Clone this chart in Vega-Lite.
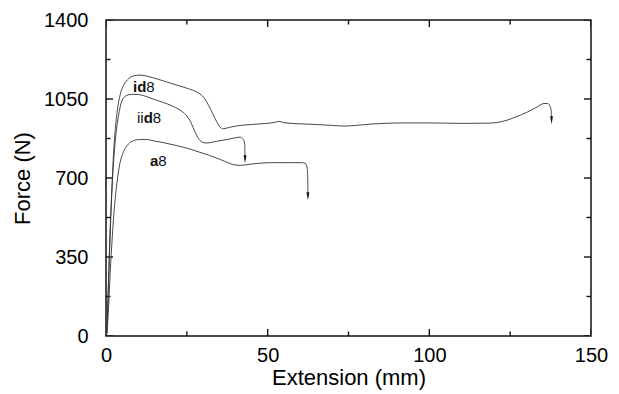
{
  "$schema": "https://vega.github.io/schema/vega-lite/v6.json",
  "width": 485,
  "height": 316,
  "autosize": "none",
  "padding": {"left": 106, "top": 20, "right": 28, "bottom": 58},
  "config": {
    "font": "Liberation Sans",
    "view": {"stroke": "#111", "strokeWidth": 1.5},
    "axis": {"grid": false, "domain": false, "ticks": false, "labelColor": "#000", "titleColor": "#000", "labelFlush": false, "labelOverlap": false},
    "tick": {"color": "#111", "opacity": 1, "thickness": 1.4}
  },
  "datasets": {
    "curves": [
      {"series": "id8", "x": 0.2, "y": 10}, {"series": "id8", "x": 0.5, "y": 120}, {"series": "id8", "x": 0.9, "y": 300},
      {"series": "id8", "x": 1.3, "y": 480}, {"series": "id8", "x": 1.8, "y": 650}, {"series": "id8", "x": 2.3, "y": 800},
      {"series": "id8", "x": 2.9, "y": 920}, {"series": "id8", "x": 3.6, "y": 1010}, {"series": "id8", "x": 4.5, "y": 1075},
      {"series": "id8", "x": 5.5, "y": 1112}, {"series": "id8", "x": 7, "y": 1140}, {"series": "id8", "x": 8.5, "y": 1152},
      {"series": "id8", "x": 10.5, "y": 1156}, {"series": "id8", "x": 13, "y": 1150}, {"series": "id8", "x": 16, "y": 1138},
      {"series": "id8", "x": 20, "y": 1120}, {"series": "id8", "x": 24, "y": 1102}, {"series": "id8", "x": 27, "y": 1088},
      {"series": "id8", "x": 29, "y": 1073}, {"series": "id8", "x": 30.5, "y": 1052}, {"series": "id8", "x": 31.8, "y": 1020},
      {"series": "id8", "x": 33, "y": 985}, {"series": "id8", "x": 34.2, "y": 950}, {"series": "id8", "x": 35.3, "y": 925},
      {"series": "id8", "x": 36.3, "y": 918}, {"series": "id8", "x": 38, "y": 924}, {"series": "id8", "x": 41, "y": 932},
      {"series": "id8", "x": 45, "y": 937}, {"series": "id8", "x": 49, "y": 941}, {"series": "id8", "x": 52, "y": 946},
      {"series": "id8", "x": 53.5, "y": 951}, {"series": "id8", "x": 55, "y": 945}, {"series": "id8", "x": 60, "y": 940},
      {"series": "id8", "x": 65, "y": 937}, {"series": "id8", "x": 70, "y": 933}, {"series": "id8", "x": 74, "y": 930},
      {"series": "id8", "x": 78, "y": 934}, {"series": "id8", "x": 82, "y": 939}, {"series": "id8", "x": 86, "y": 942},
      {"series": "id8", "x": 92, "y": 944}, {"series": "id8", "x": 100, "y": 944}, {"series": "id8", "x": 110, "y": 942},
      {"series": "id8", "x": 118, "y": 943}, {"series": "id8", "x": 121, "y": 946}, {"series": "id8", "x": 124, "y": 956},
      {"series": "id8", "x": 127, "y": 972}, {"series": "id8", "x": 130, "y": 990}, {"series": "id8", "x": 133, "y": 1012},
      {"series": "id8", "x": 135.5, "y": 1030}, {"series": "id8", "x": 136.6, "y": 1030}, {"series": "id8", "x": 137.4, "y": 1015},
      {"series": "id8", "x": 137.75, "y": 990}, {"series": "id8", "x": 137.8, "y": 956},

      {"series": "iid8", "x": 0.2, "y": 10}, {"series": "iid8", "x": 0.6, "y": 150}, {"series": "iid8", "x": 1.0, "y": 330},
      {"series": "iid8", "x": 1.5, "y": 530}, {"series": "iid8", "x": 2.0, "y": 690}, {"series": "iid8", "x": 2.6, "y": 820},
      {"series": "iid8", "x": 3.3, "y": 920}, {"series": "iid8", "x": 4.1, "y": 995}, {"series": "iid8", "x": 5.0, "y": 1045},
      {"series": "iid8", "x": 6.3, "y": 1065}, {"series": "iid8", "x": 8, "y": 1071}, {"series": "iid8", "x": 10, "y": 1070},
      {"series": "iid8", "x": 13, "y": 1058}, {"series": "iid8", "x": 16, "y": 1043}, {"series": "iid8", "x": 19, "y": 1028},
      {"series": "iid8", "x": 21.5, "y": 1012}, {"series": "iid8", "x": 23.5, "y": 995}, {"series": "iid8", "x": 25, "y": 975},
      {"series": "iid8", "x": 26.3, "y": 945}, {"series": "iid8", "x": 27.5, "y": 905}, {"series": "iid8", "x": 28.6, "y": 875},
      {"series": "iid8", "x": 29.6, "y": 860}, {"series": "iid8", "x": 31, "y": 855}, {"series": "iid8", "x": 34, "y": 862},
      {"series": "iid8", "x": 37.5, "y": 871}, {"series": "iid8", "x": 40, "y": 878}, {"series": "iid8", "x": 41.5, "y": 881},
      {"series": "iid8", "x": 42.4, "y": 872}, {"series": "iid8", "x": 42.9, "y": 850}, {"series": "iid8", "x": 43.0, "y": 783},

      {"series": "a8", "x": 0.3, "y": 10}, {"series": "a8", "x": 0.8, "y": 130}, {"series": "a8", "x": 1.3, "y": 280},
      {"series": "a8", "x": 1.9, "y": 430}, {"series": "a8", "x": 2.6, "y": 570}, {"series": "a8", "x": 3.4, "y": 680},
      {"series": "a8", "x": 4.3, "y": 765}, {"series": "a8", "x": 5.3, "y": 812}, {"series": "a8", "x": 6.5, "y": 843},
      {"series": "a8", "x": 8, "y": 862}, {"series": "a8", "x": 10, "y": 870}, {"series": "a8", "x": 12, "y": 871},
      {"series": "a8", "x": 15, "y": 864}, {"series": "a8", "x": 18, "y": 856}, {"series": "a8", "x": 22, "y": 843},
      {"series": "a8", "x": 26, "y": 828}, {"series": "a8", "x": 29, "y": 814}, {"series": "a8", "x": 32, "y": 800},
      {"series": "a8", "x": 35, "y": 784}, {"series": "a8", "x": 37.5, "y": 769}, {"series": "a8", "x": 39.5, "y": 759},
      {"series": "a8", "x": 41.5, "y": 756}, {"series": "a8", "x": 44, "y": 760}, {"series": "a8", "x": 47, "y": 765},
      {"series": "a8", "x": 52, "y": 768}, {"series": "a8", "x": 58, "y": 768}, {"series": "a8", "x": 60.5, "y": 768},
      {"series": "a8", "x": 61.6, "y": 765}, {"series": "a8", "x": 62.2, "y": 745}, {"series": "a8", "x": 62.4, "y": 700},
      {"series": "a8", "x": 62.45, "y": 619}
    ],
    "breaks": [
      {"series": "id8", "x": 137.8, "y": 956},
      {"series": "iid8", "x": 43.0, "y": 783},
      {"series": "a8", "x": 62.45, "y": 619}
    ],
    "labelBold": [
      {"series": "id8", "text": "id", "x": 8.35, "y": 1081},
      {"series": "iid8", "text": "d", "x": 11.66, "y": 942},
      {"series": "a8", "text": "a", "x": 13.61, "y": 754}
    ],
    "labelPlain": [
      {"series": "id8", "text": "8", "x": 12.47, "y": 1081},
      {"series": "iid8", "text": "ii", "x": 9.59, "y": 942},
      {"series": "iid8", "text": "8", "x": 14.48, "y": 942},
      {"series": "a8", "text": "8", "x": 16.18, "y": 754}
    ],
    "xMajor": [{"v": 0}, {"v": 50}, {"v": 100}, {"v": 150}],
    "xMinor": [{"v": 25}, {"v": 75}, {"v": 125}],
    "yMajor": [{"v": 0}, {"v": 350}, {"v": 700}, {"v": 1050}, {"v": 1400}],
    "yMinor": [{"v": 175}, {"v": 525}, {"v": 875}, {"v": 1225}]
  },
  "encoding": {
    "x": {"type": "quantitative", "scale": {"domain": [0, 150], "nice": false, "zero": false},
          "axis": {"orient": "bottom", "values": [0, 50, 100, 150], "format": "d", "labelPadding": 9, "labelFontSize": 20, "title": "Extension (mm)", "titleFontSize": 22, "titleFontWeight": "normal", "titlePadding": 2}},
    "y": {"type": "quantitative", "scale": {"domain": [0, 1400], "nice": false, "zero": false},
          "axis": {"orient": "left", "values": [0, 350, 700, 1050, 1400], "format": "d", "labelPadding": 18, "labelFontSize": 20, "title": "Force (N)", "titleFontSize": 22, "titleFontWeight": "normal", "titlePadding": 9}}
  },
  "layer": [
    {
      "data": {"name": "xMajor"},
      "mark": {"type": "tick", "orient": "vertical", "size": 14, "clip": true},
      "encoding": {"x": {"field": "v"}, "y": {"datum": 0}}
    },
    {
      "data": {"name": "xMajor"},
      "mark": {"type": "tick", "orient": "vertical", "size": 14, "clip": true},
      "encoding": {"x": {"field": "v"}, "y": {"datum": 1400}}
    },
    {
      "data": {"name": "xMinor"},
      "mark": {"type": "tick", "orient": "vertical", "size": 9, "clip": true},
      "encoding": {"x": {"field": "v"}, "y": {"datum": 0}}
    },
    {
      "data": {"name": "xMinor"},
      "mark": {"type": "tick", "orient": "vertical", "size": 9, "clip": true},
      "encoding": {"x": {"field": "v"}, "y": {"datum": 1400}}
    },
    {
      "data": {"name": "yMajor"},
      "mark": {"type": "tick", "orient": "horizontal", "size": 14, "clip": true},
      "encoding": {"y": {"field": "v"}, "x": {"datum": 0}}
    },
    {
      "data": {"name": "yMajor"},
      "mark": {"type": "tick", "orient": "horizontal", "size": 14, "clip": true},
      "encoding": {"y": {"field": "v"}, "x": {"datum": 150}}
    },
    {
      "data": {"name": "yMinor"},
      "mark": {"type": "tick", "orient": "horizontal", "size": 9, "clip": true},
      "encoding": {"y": {"field": "v"}, "x": {"datum": 0}}
    },
    {
      "data": {"name": "yMinor"},
      "mark": {"type": "tick", "orient": "horizontal", "size": 9, "clip": true},
      "encoding": {"y": {"field": "v"}, "x": {"datum": 150}}
    },
    {
      "data": {"name": "curves"},
      "mark": {"type": "line", "interpolate": "monotone", "strokeWidth": 0.9, "color": "#333"},
      "encoding": {
        "x": {"field": "x"},
        "y": {"field": "y"},
        "detail": {"field": "series", "type": "nominal"}
      }
    },
    {
      "data": {"name": "breaks"},
      "mark": {"type": "point", "shape": "M-0.35,-1L0.35,-1L0,1Z", "filled": true, "color": "#111", "opacity": 1, "size": 64},
      "encoding": {"x": {"field": "x"}, "y": {"field": "y"}}
    },
    {
      "data": {"name": "labelBold"},
      "mark": {"type": "text", "align": "left", "baseline": "alphabetic", "fontSize": 15, "fontWeight": "bold", "color": "#111"},
      "encoding": {"x": {"field": "x"}, "y": {"field": "y"}, "text": {"field": "text"}}
    },
    {
      "data": {"name": "labelPlain"},
      "mark": {"type": "text", "align": "left", "baseline": "alphabetic", "fontSize": 15, "color": "#111"},
      "encoding": {"x": {"field": "x"}, "y": {"field": "y"}, "text": {"field": "text"}}
    }
  ]
}
